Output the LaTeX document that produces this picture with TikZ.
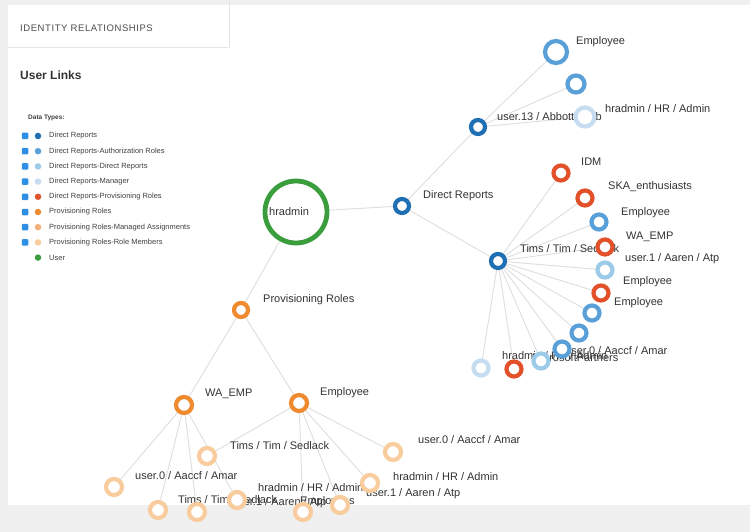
\documentclass[tikz,border=0pt]{standalone}
\usepackage{fontspec}
\setmainfont{Liberation Sans}
\usetikzlibrary{backgrounds}
\pgfdeclarelayer{canvas}
\pgfsetlayers{canvas,background,main}
\begin{document}
\begin{tikzpicture}[x=1pt,y=-1pt,
  ring/.style={circle,draw=#1,fill=white,line width=4.2pt,minimum size=14pt,inner sep=0pt},
  big/.style={minimum size=22pt},
  edge/.style={draw=black!13,line width=0.9pt},
  lbl/.style={font=\fontsize{11}{12}\selectfont,text=black!80,anchor=west,inner sep=0pt},
  leg/.style={font=\fontsize{7.5}{8}\selectfont,text=black!75,anchor=west,inner sep=0pt}]
\definecolor{dblue}{HTML}{1F6FB5}
\definecolor{mblue}{HTML}{5AA0D8}
\definecolor{lmblue}{HTML}{9CCBE8}
\definecolor{lblue}{HTML}{C6DCF0}
\definecolor{dred}{HTML}{E2512A}
\definecolor{orng}{HTML}{F08A2E}
\definecolor{lorng}{HTML}{F6B07A}
\definecolor{plorng}{HTML}{F9CC9E}
\definecolor{grn}{HTML}{3A9E3F}
\definecolor{cbx}{HTML}{2F8FE6}
\useasboundingbox (0,0) rectangle (750,532);
\begin{pgfonlayer}{canvas}
\fill[black!6] (0,0) rectangle (750,532);
\fill[white] (8,5) rectangle (750,505);
\draw[black!10,line width=1pt] (8,48) -- (228,48);
\draw[black!10,line width=1pt] (229,0) -- (229,48);
\end{pgfonlayer}
% legend
\node[font=\fontsize{9.5}{10}\selectfont,text=black!70,anchor=west,inner sep=0pt] (ttl) at (20,28) {\addfontfeature{LetterSpace=6}IDENTITY RELATIONSHIPS};
\node[font=\bfseries\fontsize{12}{13}\selectfont,text=black!80,anchor=west,inner sep=0pt] (ul) at (20,75) {User Links};
\node[leg,font=\bfseries\fontsize{6.5}{7}\selectfont] (dt) at (28,118) {Data Types:};
\foreach \c/\t [count=\i from 0] in {dblue/Direct Reports,mblue/Direct Reports-Authorization Roles,lmblue/Direct Reports-Direct Reports,lblue/Direct Reports-Manager,dred/Direct Reports-Provisioning Roles,orng/Provisioning Roles,lorng/Provisioning Roles-Managed Assignments,plorng/Provisioning Roles-Role Members}{
  \node[fill=cbx,rounded corners=1pt,minimum size=6.5pt,inner sep=0pt] (cb\i) at (25,136+15.2*\i) {};
  \node[circle,fill=\c,minimum size=6.5pt,inner sep=0pt] (ld\i) at (38,136+15.2*\i) {};
  \node[leg] (lt\i) at (49,136+15.2*\i) {\t};
}
\node[circle,fill=grn,minimum size=6.5pt,inner sep=0pt] (ld8) at (38,257.6) {};
\node[leg] (lt8) at (49,257.6) {User};
% labels (drawn under rings)
\node[lbl] at (423,196) {Direct Reports};
\node[lbl] at (497,117) {user.13 / Abbott / bob};
\node[lbl] at (576,42) {Employee};
\node[lbl] at (605,109) {hradmin / HR / Admin};
\node[lbl] at (520,249) {Tims / Tim / Sedlack};
\node[lbl] at (581,162) {IDM};
\node[lbl] at (608,187) {SKA\_enthusiasts};
\node[lbl] at (621,213) {Employee};
\node[lbl] at (626,237) {WA\_EMP};
\node[lbl] at (625,259) {user.1 / Aaren / Atp};
\node[lbl] at (623,282) {Employee};
\node[lbl] at (614,303) {Employee};
\node[lbl] at (565,351) {user.0 / Aaccf / Amar};
\node[lbl] at (502,356) {hradmin / HR / Admin};
\node[lbl] at (532,358) {MicrosoftPartners};
\node[lbl] at (263,300) {Provisioning Roles};
\node[lbl] at (205,394) {WA\_EMP};
\node[lbl] at (320,393) {Employee};
\node[lbl] at (135,476) {user.0 / Aaccf / Amar};
\node[lbl] at (178,500) {Tims / Tim / Sedlack};
\node[lbl] at (230,446) {Tims / Tim / Sedlack};
\node[lbl] at (418,440) {user.0 / Aaccf / Amar};
\node[lbl] at (393,477) {hradmin / HR / Admin};
\node[lbl] at (366,494) {user.1 / Aaren / Atp};
\node[lbl] at (258,488) {hradmin / HR / Admin};
\node[lbl] at (232,503) {user.1 / Aaren / Atp};
\node[lbl] at (300,502) {Employees};
% nodes
\node[ring=grn,minimum size=62pt,line width=4.8pt] (hr) at (296,212) {};
\node[lbl] (hrl) at (269,212) {hradmin};
\node[ring=dblue] (dr) at (402,206) {};
\node[ring=dblue] (u13) at (478,127) {};
\node[ring=mblue,big] (e1) at (556,52) {};
\node[ring=mblue,minimum size=17pt] (e2) at (576,84) {};
\node[ring=lblue,minimum size=19pt] (e3) at (585,117) {};
\node[ring=dblue] (tim) at (498,261) {};
\node[ring=dred,minimum size=15pt] (t1) at (561,173) {};
\node[ring=dred,minimum size=15pt] (t2) at (585,198) {};
\node[ring=mblue,minimum size=15pt] (t3) at (599,222) {};
\node[ring=dred,minimum size=15pt] (t4) at (605,247) {};
\node[ring=lmblue,minimum size=15pt] (t5) at (605,270) {};
\node[ring=dred,minimum size=15pt] (t6) at (601,293) {};
\node[ring=mblue,minimum size=15pt] (t7) at (592,313) {};
\node[ring=mblue,minimum size=15pt] (t8) at (579,333) {};
\node[ring=mblue,minimum size=15pt] (t9) at (562,349) {};
\node[ring=lmblue,minimum size=15pt] (t10) at (541,361) {};
\node[ring=dred,minimum size=15pt] (t11) at (514,369) {};
\node[ring=lblue,minimum size=15pt] (t12) at (481,368) {};
\node[ring=orng] (pr) at (241,310) {};
\node[ring=orng,minimum size=16pt] (wa) at (184,405) {};
\node[ring=orng,minimum size=16pt] (em) at (299,403) {};
\foreach \n/\p in {a/{(114,487)},b/{(158,510)},c/{(197,512)},d/{(207,456)},e/{(237,500)},f/{(303,512)},g/{(340,505)},h/{(370,483)},k/{(393,452)}}
  \node[ring=plorng,minimum size=16pt] (o\n) at \p {};
% edges
\begin{scope}[on background layer]
\draw[edge] (hr) -- (dr); \draw[edge] (hr) -- (pr);
\draw[edge] (dr) -- (u13); \draw[edge] (dr) -- (tim);
\foreach \t in {e1,e2,e3} \draw[edge] (u13) -- (\t);
\foreach \t in {t1,t2,t3,t4,t5,t6,t7,t8,t9,t10,t11,t12} \draw[edge] (tim) -- (\t);
\draw[edge] (pr) -- (wa); \draw[edge] (pr) -- (em);
\foreach \t in {oa,ob,oc,oe} \draw[edge] (wa) -- (\t);
\foreach \t in {od,of,og,oh,ok} \draw[edge] (em) -- (\t);
\end{scope}
\end{tikzpicture}
\end{document}
